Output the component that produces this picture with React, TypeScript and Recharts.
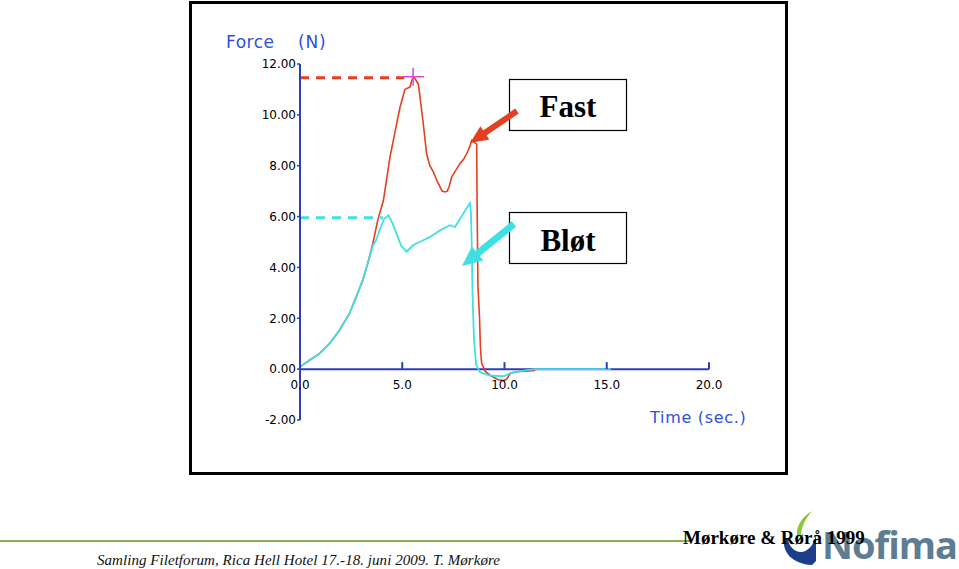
import { LineChart, Line, XAxis, YAxis, ReferenceLine, ReferenceDot } from "recharts"

// Fast (red) and Bløt (cyan) force curves
const fastTime = [0, 0.46, 0.95, 1.44, 1.93, 2.42, 2.75, 3.07, 3.31, 3.56, 3.8, 4.08, 4.4, 4.89, 5.13, 5.25, 5.38, 5.45, 5.54, 5.65, 5.79, 5.9, 6.03, 6.19, 6.35, 6.52, 6.7, 6.85, 6.95, 7.09, 7.2, 7.3, 7.42, 7.6, 7.82, 8.0, 8.15, 8.3, 8.4, 8.55, 8.64, 8.66, 8.7, 8.78, 8.82, 8.88, 9.05, 9.37, 9.7, 9.95, 10.1, 10.3, 10.6, 11.0, 11.5]
const fastForce = [0.09, 0.35, 0.61, 1.0, 1.53, 2.19, 2.84, 3.5, 4.15, 4.93, 5.85, 6.64, 8.34, 10.3, 11.0, 11.05, 11.1, 11.3, 11.5, 11.4, 11.2, 10.5, 9.65, 8.47, 8.0, 7.76, 7.4, 7.17, 7.0, 6.97, 7.0, 7.2, 7.56, 7.8, 8.08, 8.25, 8.47, 8.75, 9.0, 8.9, 8.85, 6.5, 3.3, 2.0, 0.9, 0.24, -0.08, -0.28, -0.42, -0.45, -0.4, -0.15, -0.1, -0.08, -0.05]

const softTime = [0, 0.46, 0.95, 1.44, 1.93, 2.42, 2.75, 3.07, 3.31, 3.56, 3.72, 3.96, 4.12, 4.33, 4.53, 4.78, 4.95, 5.21, 5.54, 6.03, 6.36, 6.85, 7.33, 7.58, 7.9, 8.15, 8.31, 8.36, 8.4, 8.44, 8.51, 8.61, 8.8, 9.29, 9.94, 10.27, 10.76, 11.5, 15.2]
const softForce = [0.09, 0.35, 0.61, 1.0, 1.53, 2.19, 2.84, 3.5, 4.15, 4.85, 5.07, 5.6, 5.92, 6.05, 5.72, 5.2, 4.85, 4.62, 4.88, 5.07, 5.2, 5.46, 5.66, 5.59, 6.0, 6.33, 6.53, 6.14, 4.83, 2.86, 1.16, 0.18, -0.12, -0.25, -0.28, -0.17, -0.08, 0, 0]

// dashed reference levels: [force, time where the dash stops]
const fastLevel = [11.46, 5.1]
const softLevel = [5.95, 4.05]
const fastPeak = [5.53, 11.5]

const xTicks = [0, 5, 10, 15, 20]
const yTicks = [-2, 0, 2, 4, 6, 8, 10, 12]

const fastData = fastTime.map((t, i) => ({ t, f: fastForce[i] }))
const softData = softTime.map((t, i) => ({ t, f: softForce[i] }))

const AXIS = "#2b3fbb"
const LABEL = "#2f4fe0"
const RED = "#e2401f"
const CYAN = "#3fe0e4"

function arrow(x1: number, y1: number, x2: number, y2: number, head: number, half: number) {
  const len = Math.hypot(x2 - x1, y2 - y1)
  const ux = (x2 - x1) / len
  const uy = (y2 - y1) / len
  const bx = x2 - head * ux
  const by = y2 - head * uy
  return {
    shaft: [x1, y1, bx + ux * 2, by + uy * 2],
    head: `${x2},${y2} ${bx - uy * half},${by + ux * half} ${bx + uy * half},${by - ux * half}`,
  }
}

const redArrow = arrow(517, 111, 470, 143, 18, 8)
const cyanArrow = arrow(514, 224, 462, 266, 20, 9)

export default function App() {
  return (
    <div style={{ position: "absolute", left: 0, top: 0, width: 959, height: 569, background: "#fff", overflow: "hidden" }}>
      <div style={{ position: "absolute", left: 0, top: 0 }}>
        <LineChart width={959} height={569} margin={{ top: 64, right: 250, bottom: 149, left: 240 }}>
          <XAxis type="number" dataKey="t" domain={[0, 20]} ticks={xTicks} hide allowDataOverflow />
          <YAxis
            type="number"
            domain={[-2, 12]}
            ticks={yTicks}
            width={60}
            allowDataOverflow
            tickFormatter={(v: number) => v.toFixed(2)}
            axisLine={{ stroke: AXIS, strokeWidth: 2 }}
            tickLine={{ stroke: AXIS, strokeWidth: 1.5 }}
            tickSize={3}
            tickMargin={1}
            tick={{ fill: "#000", fontSize: 12, fontFamily: "DejaVu Sans" }}
          />
          <ReferenceLine y={0} stroke={AXIS} strokeWidth={2} />
          {xTicks.map((t) => (
            <ReferenceDot
              key={t}
              x={t}
              y={0}
              r={0}
              shape={(p: any) => (
                <g>
                  {t > 0 && <line x1={p.cx} x2={p.cx} y1={p.cy} y2={p.cy - 7} stroke={AXIS} strokeWidth={2} />}
                  <text x={p.cx} y={p.cy + 20} textAnchor="middle" fontSize={12} fontFamily="DejaVu Sans" fill="#000">
                    {t.toFixed(1)}
                  </text>
                </g>
              )}
            />
          ))}
          <ReferenceLine
            segment={[{ x: 0, y: fastLevel[0] }, { x: fastLevel[1], y: fastLevel[0] }]}
            stroke={RED}
            strokeWidth={3}
            strokeDasharray="9 7"
          />
          <ReferenceLine
            segment={[{ x: 0, y: softLevel[0] }, { x: softLevel[1], y: softLevel[0] }]}
            stroke={CYAN}
            strokeWidth={3}
            strokeDasharray="9 7"
          />
          <Line data={fastData} dataKey="f" type="linear" stroke={RED} strokeWidth={1.6} dot={false} isAnimationActive={false} />
          <Line data={softData} dataKey="f" type="linear" stroke={CYAN} strokeWidth={1.8} dot={false} isAnimationActive={false} />
          <ReferenceDot
            x={fastPeak[0]}
            y={fastPeak[1]}
            r={0}
            shape={(p: any) => (
              <g stroke="#e040e0" strokeWidth={1.5}>
                <line x1={p.cx - 10} x2={p.cx + 11} y1={p.cy} y2={p.cy} />
                <line x1={p.cx} x2={p.cx} y1={p.cy - 9} y2={p.cy + 9} />
              </g>
            )}
          />
        </LineChart>
      </div>

      <svg width={959} height={569} style={{ position: "absolute", left: 0, top: 0, pointerEvents: "none" }}>
        {/* frame */}
        <rect x={190.5} y={2.5} width={596} height={471} fill="none" stroke="#000" strokeWidth={3} />

        {/* axis titles */}
        <text x={226} y={48} fill={LABEL} fontSize={17} fontFamily="DejaVu Sans" letterSpacing={0.5}>Force</text>
        <text x={298} y={48} fill={LABEL} fontSize={17} fontFamily="DejaVu Sans" letterSpacing={0.8}>(N)</text>
        <text x={650} y={423} fill={LABEL} fontSize={16} fontFamily="DejaVu Sans" letterSpacing={0.7}>Time (sec.)</text>

        {/* callouts */}
        <rect x={509.5} y={79.5} width={117} height={51} fill="#fff" stroke="#000" strokeWidth={1.2} />
        <text x={568} y={117} textAnchor="middle" fontSize={31} fontWeight="bold" fontFamily="Liberation Serif">Fast</text>
        <rect x={509.5} y={212.5} width={117} height={51} fill="#fff" stroke="#000" strokeWidth={1.2} />
        <text x={568} y={251} textAnchor="middle" fontSize={31} fontWeight="bold" fontFamily="Liberation Serif">Bløt</text>

        <line x1={redArrow.shaft[0]} y1={redArrow.shaft[1]} x2={redArrow.shaft[2]} y2={redArrow.shaft[3]} stroke={RED} strokeWidth={6} />
        <polygon points={redArrow.head} fill={RED} />
        <line x1={cyanArrow.shaft[0]} y1={cyanArrow.shaft[1]} x2={cyanArrow.shaft[2]} y2={cyanArrow.shaft[3]} stroke={CYAN} strokeWidth={7} />
        <polygon points={cyanArrow.head} fill={CYAN} />

        {/* footer */}
        <rect x={0} y={540} width={690} height={2} fill="#8fab57" />
        <text x={97} y={565} fontSize={15} fontStyle="italic" fontFamily="Liberation Serif" fill="#111" textLength={403}>
          Samling Filetforum, Rica Hell Hotel 17.-18. juni 2009. T. Mørkøre
        </text>

        {/* logo */}
        <path d="M812 511 C 800 518, 796 528, 797 536 L 801 536 C 801 528, 805 519, 812 511 Z" fill="#8cc63f" />
        <path d="M784 538 C 782 552, 792 564, 812 565 L 816 561 L 816 535 C 812 552, 800 556, 792 548 C 789 545, 788 541, 788 538 Z" fill="#1d3f8a" />
        <text x={822} y={559} fontSize={38} fontWeight="bold" fontFamily="Open Sans" fill="#5e7d93" letterSpacing={-1}>Nofima</text>

        <text x={683} y={544} fontSize={19} fontWeight="bold" fontFamily="Liberation Serif" fill="#000">Mørkøre &amp; Rørå 1999</text>
      </svg>
    </div>
  )
}
